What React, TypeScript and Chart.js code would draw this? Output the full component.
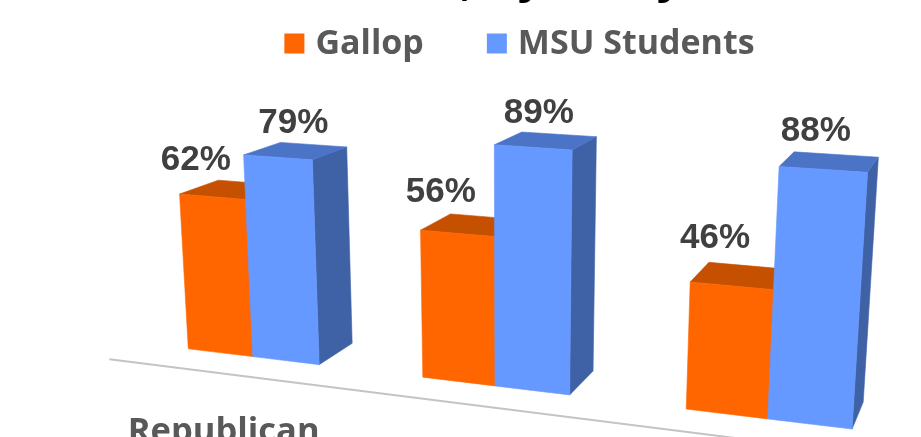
import React, { useEffect, useRef } from 'react';
import { Chart, registerables } from 'chart.js';

Chart.register(...registerables);

// ---- data ----
const categories = ['Republican', 'Democrat', 'Independent'];
const seriesNames = ['Gallop', 'MSU Students'];
const gallopValues = [62, 56, 46];
const msuValues = [79, 89, 88];
const titleText = 'Trust in Elections, by Party';

// ---- styles ----
const FRONT = ['#FF6600', '#6699FF'];
const TOP = ['#C55000', '#4B74C6'];
const SIDE = ['#A84500', '#3F62A6'];
const TEXT_GRAY = '#595959';
const LABEL_GRAY = '#404040';
// per-series label anchor: depth used for x, pixel shift
const LABEL_Z = [0, 1];
const LABEL_DX = [-16.5, -20];

// perspective camera: (u = category units, v = value units, z = bar depth units) -> screen px
const CAM = {
  a: 214.71, b: -0.22, p: 48.11, c: 252.7,
  d: 7.8, e: -2.62, q: -5.7, f: 356.6,
  g: -0.05574, h: -0.00043, s: 0.0445,
};
const BAR_DEPTH = 1;
const FLOOR_Z = -0.76;

function project(u: number, v: number, z: number): [number, number] {
  const w = CAM.g * u + CAM.h * v + CAM.s * z + 1;
  return [
    (CAM.a * u + CAM.b * v + CAM.p * z + CAM.c) / w,
    (CAM.d * u + CAM.e * v + CAM.q * z + CAM.f) / w,
  ];
}

function face(ctx: CanvasRenderingContext2D, pts: [number, number][], color: string) {
  ctx.beginPath();
  pts.forEach(([x, y], k) => (k ? ctx.lineTo(x, y) : ctx.moveTo(x, y)));
  ctx.closePath();
  ctx.fillStyle = color;
  ctx.fill();
  ctx.strokeStyle = color;
  ctx.lineWidth = 0.6;
  ctx.stroke();
}

const bars3d = {
  id: 'bars3d',
  beforeDatasetsDraw() {
    return false;
  },
  afterDraw(chart: any) {
    const ctx: CanvasRenderingContext2D = chart.ctx;
    const xs = chart.scales.x;
    const ys = chart.scales.y;
    const p0 = xs.getPixelForValue(0);
    const step = xs.getPixelForValue(1) - p0;
    const toU = (px: number) => (px - p0) / step;

    ctx.save();

    // floor front edge
    const uMin = toU(chart.chartArea.left);
    const uMax = toU(chart.chartArea.right);
    const f0 = project(uMin, 0, FLOOR_Z);
    const f1 = project(uMax, 0, FLOOR_Z);
    ctx.beginPath();
    ctx.moveTo(f0[0], f0[1]);
    ctx.lineTo(f1[0], f1[1]);
    ctx.strokeStyle = '#C4C4C4';
    ctx.lineWidth = 2;
    ctx.stroke();

    const nDs = chart.data.datasets.length;
    const labelJobs: any[] = [];
    for (let j = 0; j < categories.length; j++) {
      for (let i = 0; i < nDs; i++) {
        const meta = chart.getDatasetMeta(i);
        const bar = meta.data[j];
        if (!bar) continue;
        const { x, y, base, width } = bar.getProps(['x', 'y', 'base', 'width'], true);
        const uL = toU(x - width / 2);
        const uR = toU(x + width / 2);
        const v = ys.getValueForPixel(y);
        const v0 = ys.getValueForPixel(base);
        const D = BAR_DEPTH;
        // right side
        face(ctx, [project(uR, v0, 0), project(uR, v0, D), project(uR, v, D), project(uR, v, 0)], SIDE[i]);
        // top
        face(ctx, [project(uL, v, 0), project(uR, v, 0), project(uR, v, D), project(uL, v, D)], TOP[i]);
        // front
        face(ctx, [project(uL, v0, 0), project(uR, v0, 0), project(uR, v, 0), project(uL, v, 0)], FRONT[i]);

        const uc = (uL + uR) / 2;
        const lx = project(uc, v, LABEL_Z[i])[0] + LABEL_DX[i];
        const ly = project(uc, v, 2)[1];
        labelJobs.push({ text: Math.round(chart.data.datasets[i].data[j]) + '%', x: lx, y: ly });
      }
    }

    // data labels
    ctx.font = 'bold 35px "Liberation Sans", Arial, sans-serif';
    ctx.fillStyle = LABEL_GRAY;
    ctx.textAlign = 'center';
    ctx.textBaseline = 'alphabetic';
    labelJobs.forEach((l) => ctx.fillText(l.text, l.x, l.y));

    // category labels
    ctx.font = 'bold 34.5px "Open Sans", sans-serif';
    ctx.fillStyle = TEXT_GRAY;
    categories.forEach((c, j) => {
      const [cx, cy] = project(j, 0, FLOOR_Z);
      ctx.fillText(c, cx, cy + 68);
    });

    // legend
    ctx.font = 'bold 34px "Open Sans", sans-serif';
    const names = chart.data.datasets.map((d: any) => d.label);
    const widths = names.map((n: string) => ctx.measureText(n).width);
    const box = 20;
    const boxGap = 11;
    const itemGap = 63;
    let total = 0;
    widths.forEach((w: number, k: number) => {
      total += box + boxGap + w + (k < widths.length - 1 ? itemGap : 0);
    });
    let lx = 519.5 - total / 2;
    ctx.textAlign = 'left';
    names.forEach((n: string, k: number) => {
      ctx.fillStyle = FRONT[k];
      ctx.fillRect(lx, 33.5, box, box);
      ctx.fillStyle = TEXT_GRAY;
      ctx.fillText(n, lx + box + boxGap, 53.5);
      lx += box + boxGap + widths[k] + itemGap;
    });

    // title (mostly cropped above the picture)
    ctx.font = 'bold 50px "Liberation Sans", Arial, sans-serif';
    ctx.fillStyle = '#000000';
    ctx.textAlign = 'right';
    ctx.fillText(titleText, 683.5, -7.5);

    ctx.restore();
  },
};

export default function App() {
  const ref = useRef<HTMLCanvasElement | null>(null);
  useEffect(() => {
    if (!ref.current) return;
    const chart = new Chart(ref.current, {
      type: 'bar',
      data: {
        labels: categories,
        datasets: [
          { label: seriesNames[0], data: gallopValues, backgroundColor: FRONT[0], categoryPercentage: 0.572, barPercentage: 1 },
          { label: seriesNames[1], data: msuValues, backgroundColor: FRONT[1], categoryPercentage: 0.572, barPercentage: 1 },
        ],
      },
      options: {
        animation: false,
        responsive: false,
        devicePixelRatio: 1,
        layout: { padding: 0 },
        plugins: {
          legend: { display: false },
          title: { display: false },
          tooltip: { enabled: false },
        },
        scales: {
          x: { display: false, offset: true },
          y: { display: false, min: 0, max: 100 },
        },
      },
      plugins: [bars3d],
    } as any);
    return () => chart.destroy();
  }, []);
  return (
    <div style={{ position: 'fixed', left: 0, top: 0, width: 921, height: 437, background: '#FFFFFF' }}>
      <canvas ref={ref} width={921} height={437} style={{ display: 'block' }} />
    </div>
  );
}
